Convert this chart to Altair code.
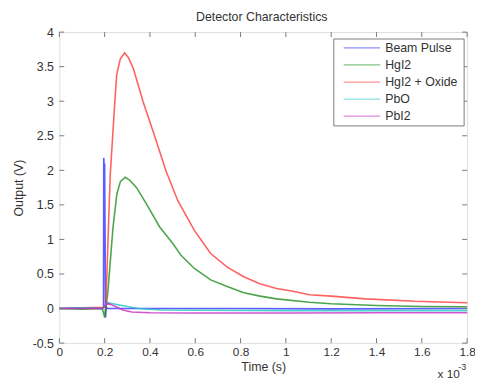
import altair as alt
import pandas as pd

# ---- data (time in units of 1e-3 s, output in V) ----
series_names = ["Beam Pulse", "HgI2", "HgI2 + Oxide", "PbO", "PbI2"]
series_colors = ["#3333ff", "#1f8f1f", "#ff3b3b", "#22c4c4", "#c42ac4"]

t_beam = [0.0, 0.10, 0.19, 0.195, 0.196, 0.198, 0.200, 0.204, 0.207, 0.212, 0.4, 0.8, 1.2, 1.8]
v_beam = [0.0, 0.01, 0.0, 0.02, 2.18, 2.05, 2.10, -0.13, 0.03, 0.0, 0.0, 0.0, -0.005, 0.0]

t_hgi2 = [0.0, 0.1, 0.19, 0.2, 0.205, 0.214, 0.222, 0.237, 0.254, 0.27, 0.291, 0.31, 0.341,
          0.385, 0.443, 0.501, 0.537, 0.596, 0.668, 0.741, 0.814, 0.886, 0.959, 1.104, 1.2,
          1.4, 1.6, 1.8]
v_hgi2 = [0.0, -0.01, 0.0, -0.13, 0.0, 0.23, 0.56, 1.18, 1.66, 1.84, 1.90, 1.86, 1.75,
          1.51, 1.18, 0.94, 0.77, 0.58, 0.415, 0.32, 0.23, 0.18, 0.14, 0.09, 0.07,
          0.045, 0.03, 0.025]

t_oxide = [0.0, 0.1, 0.2, 0.205, 0.21, 0.218, 0.225, 0.243, 0.253, 0.269, 0.288, 0.305, 0.327,
           0.370, 0.414, 0.471, 0.523, 0.596, 0.667, 0.741, 0.814, 0.885, 0.959, 1.032, 1.103,
           1.2, 1.351, 1.569, 1.8]
v_oxide = [0.0, 0.01, 0.02, 0.05, 0.5, 1.3, 1.95, 2.89, 3.38, 3.61, 3.70, 3.63, 3.47,
           2.99, 2.56, 1.99, 1.56, 1.13, 0.80, 0.60, 0.46, 0.36, 0.29, 0.25, 0.20,
           0.18, 0.14, 0.105, 0.085]

t_pbo = [0.0, 0.1, 0.19, 0.2, 0.21, 0.25, 0.3, 0.35, 0.45, 0.6, 1.0, 1.4, 1.8]
v_pbo = [0.0, 0.01, 0.0, 0.04, 0.09, 0.06, 0.03, 0.0, -0.02, -0.025, -0.03, -0.03, -0.03]

t_pbi2 = [0.0, 0.1, 0.19, 0.2, 0.21, 0.24, 0.28, 0.32, 0.4, 0.6, 1.0, 1.4, 1.8]
v_pbi2 = [0.0, 0.0, 0.0, 0.03, 0.08, 0.04, -0.02, -0.05, -0.06, -0.065, -0.065, -0.06, -0.06]

x_ticks = [0, 0.2, 0.4, 0.6, 0.8, 1.0, 1.2, 1.4, 1.6, 1.8]
y_ticks = [-0.5, 0, 0.5, 1, 1.5, 2, 2.5, 3, 3.5, 4]

title_text = "Detector Characteristics"
x_title = "Time (s)"
y_title = "Output (V)"

# ---- build ----
W, H = 413, 315
FONT = "Liberation Sans"
TXT = "#333333"
BOX = "#7a7a7a"

all_t = [t_beam, t_hgi2, t_oxide, t_pbo, t_pbi2]
all_v = [v_beam, v_hgi2, v_oxide, v_pbo, v_pbi2]
frames = []
for i, (name, ts, vs) in enumerate(zip(series_names, all_t, all_v)):
    frames.append(pd.DataFrame({"t": ts, "v": vs, "series": name, "k": i}))
df = pd.concat(frames, ignore_index=True)

color_scale = alt.Scale(domain=series_names, range=series_colors)
xscale = alt.Scale(domain=[0, 1.8], nice=False, zero=False)
yscale = alt.Scale(domain=[-0.5, 4], nice=False, zero=False)

xaxis = alt.Axis(values=x_ticks, ticks=False, domain=False, grid=False, labelFont=FONT,
                 labelFontSize=12, labelColor=TXT, labelPadding=4, title=x_title,
                 titleFont=FONT, titleFontSize=12.5, titleFontWeight="normal", titleColor=TXT,
                 titlePadding=3, labelFlush=False, labelOverlap=False,
                 labelExpr="'' + datum.value")
yaxis = alt.Axis(values=y_ticks, ticks=False, domain=False, grid=False, labelFont=FONT,
                 labelFontSize=12.5, labelColor=TXT, labelPadding=6, title=y_title,
                 titleFont=FONT, titleFontSize=12.5, titleFontWeight="normal", titleColor=TXT,
                 titlePadding=7, labelOverlap=False, labelFlush=False,
                 labelExpr="'' + datum.value")

lines = alt.Chart(df).mark_line(strokeWidth=1.6, opacity=0.8).encode(
    x=alt.X("t:Q", scale=xscale, axis=xaxis, title=x_title),
    y=alt.Y("v:Q", scale=yscale, axis=yaxis, title=y_title),
    color=alt.Color("series:N", scale=color_scale, legend=None),
    order=alt.Order("t:Q"),
    detail="k:N",
)

xt = pd.DataFrame({"t": x_ticks})
yt = pd.DataFrame({"v": y_ticks})
xt_bottom = alt.Chart(xt).mark_rule(color=BOX).encode(
    x=alt.X("t:Q", scale=xscale, axis=xaxis, title=x_title), y=alt.value(H), y2=alt.value(H - 5))
xt_top = alt.Chart(xt).mark_rule(color=BOX).encode(
    x=alt.X("t:Q", scale=xscale, axis=xaxis, title=x_title), y=alt.value(0), y2=alt.value(5))
yt_left = alt.Chart(yt).mark_rule(color=BOX).encode(
    y=alt.Y("v:Q", scale=yscale, axis=yaxis, title=y_title), x=alt.value(0), x2=alt.value(5))
yt_right = alt.Chart(yt).mark_rule(color=BOX).encode(
    y=alt.Y("v:Q", scale=yscale, axis=yaxis, title=y_title), x=alt.value(W), x2=alt.value(W - 5))

one = pd.DataFrame({"a": [0]})
leg_box = alt.Chart(one).mark_rect(fill="white", stroke=BOX, strokeWidth=1).encode(
    x=alt.value(278), x2=alt.value(410), y=alt.value(7), y2=alt.value(95))

leg_df = pd.DataFrame({"series": series_names, "idx": list(range(len(series_names)))})
leg_base = alt.Chart(leg_df).transform_calculate(ly="16 + 17.3*datum.idx")
leg_lines = leg_base.mark_rule(strokeWidth=1.3, opacity=0.55).encode(
    x=alt.value(288), x2=alt.value(325),
    y=alt.Y("ly:Q", scale=None, axis=None),
    color=alt.Color("series:N", scale=color_scale, legend=None))
leg_text = leg_base.mark_text(align="left", baseline="middle", font=FONT, fontSize=12.5,
                              color=TXT).encode(
    x=alt.value(330), y=alt.Y("ly:Q", scale=None, axis=None), text="series:N")

title_mark = alt.Chart(one).mark_text(align="center", baseline="middle", font=FONT,
                                      fontSize=12.5, color=TXT, text=title_text).encode(
    x=alt.value(205), y=alt.value(-15))

exp_main = alt.Chart(one).mark_text(align="left", baseline="middle", font=FONT, fontSize=12,
                                    color=TXT, text="x 10").encode(
    x=alt.value(383), y=alt.value(346))
exp_sup = alt.Chart(one).mark_text(align="left", baseline="middle", font=FONT, fontSize=9,
                                   color=TXT, text="-3").encode(
    x=alt.value(404), y=alt.value(339))

chart = alt.layer(
    lines, xt_bottom, xt_top, yt_left, yt_right, leg_box, leg_lines, leg_text,
    title_mark, exp_main, exp_sup
).properties(
    width=W, height=H,
    autosize=alt.AutoSizeParams(type="none"),
    padding={"left": 52, "top": 22, "right": 8, "bottom": 38},
).configure_view(stroke=BOX, strokeWidth=1).configure(background="white")

chart.save("out.html", embed_options={"renderer": "svg", "actions": False})
